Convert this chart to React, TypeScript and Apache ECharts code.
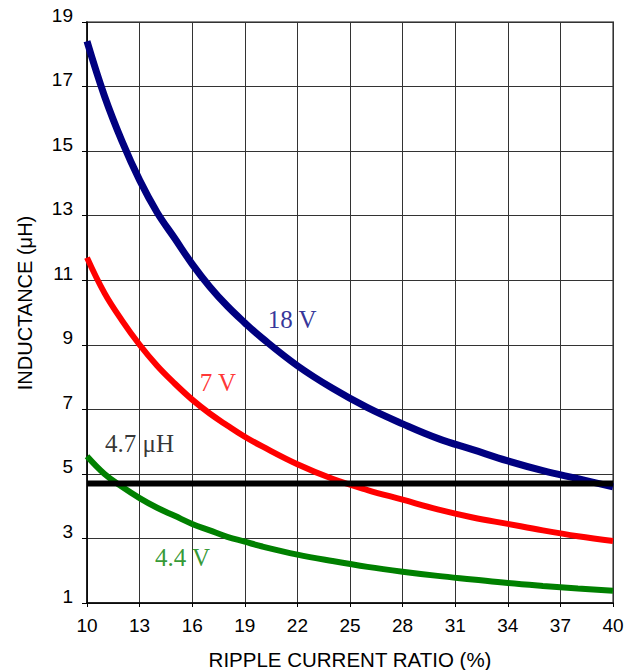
import React, { useEffect, useRef } from "react";
import * as echarts from "echarts";

const ripple = [10, 11, 12, 13, 14, 15, 16, 17, 18, 19, 20, 22, 24, 26, 28, 30, 32, 34, 36, 38, 40];
const v18 = [18.4, 16.7, 15.3, 14.1, 13.1, 12.3, 11.5, 10.8, 10.2, 9.68, 9.2, 8.35, 7.65, 7.05, 6.55, 6.1, 5.75, 5.4, 5.1, 4.85, 4.6];
const v7 = [11.7, 10.6, 9.75, 9.0, 8.35, 7.8, 7.3, 6.87, 6.5, 6.15, 5.85, 5.3, 4.85, 4.5, 4.2, 3.9, 3.65, 3.45, 3.25, 3.07, 2.92];
const v44 = [5.55, 5.0, 4.6, 4.25, 3.95, 3.7, 3.45, 3.25, 3.05, 2.9, 2.75, 2.5, 2.3, 2.12, 1.97, 1.84, 1.73, 1.62, 1.53, 1.45, 1.38];
const limitX = [10, 40];
const limitY = 4.7;

const labels = [
  { text: "18 V", x: 21.7, y: 9.79, color: "#000080" },
  { text: "7 V", x: 17.47, y: 7.84, color: "#ff0000" },
  { text: "4.7 \u03bcH", x: 13.0, y: 5.95, color: "#000000" },
  { text: "4.4 V", x: 15.45, y: 2.42, color: "#008000" },
];

export default function App() {
  const ref = useRef<HTMLDivElement>(null);
  useEffect(() => {
    if (!ref.current) return;
    const chart = echarts.init(ref.current, undefined, { renderer: "svg" });
    const sans = "Liberation Sans, Arial, sans-serif";
    const serif = "Liberation Serif, Times New Roman, serif";
    const mk = (ys: number[]) => ripple.map((x, i) => [x, ys[i]]);
    chart.setOption({
      animation: false,
      grid: {
        left: 87,
        right: 24,
        top: 22,
        bottom: 67,
        outerBoundsMode: "none",
        containLabel: false,
        show: true,
        borderColor: "#888",
        borderWidth: 2,
        backgroundColor: "#fff",
      },
      xAxis: {
        type: "value",
        min: 10,
        max: 40,
        interval: 3,
        name: "RIPPLE CURRENT RATIO (%)",
        nameLocation: "middle",
        nameGap: 48,
        nameTextStyle: { fontFamily: sans, fontSize: 20.5, lineHeight: 16, color: "#000" },
        axisLine: { lineStyle: { color: "#000", width: 1.5 } },
        axisTick: { show: true, length: 4, lineStyle: { color: "#000" } },
        axisLabel: { fontFamily: sans, fontSize: 19, color: "#000", margin: 13 },
        splitLine: { show: true, lineStyle: { color: "#333", width: 1 } },
      },
      yAxis: {
        type: "value",
        min: 1,
        max: 19,
        interval: 2,
        axisLine: { show: true, lineStyle: { color: "#000", width: 1.5 } },
        axisTick: { show: true, length: 5, lineStyle: { color: "#000" } },
        axisLabel: {
          fontFamily: sans,
          fontSize: 19,
          color: "#000",
          margin: 14,
          verticalAlign: "bottom",
          lineHeight: 14,
        },
        splitLine: { show: true, lineStyle: { color: "#333", width: 1 } },
      },
      graphic: [
        {
          type: "text",
          x: 25,
          y: 303,
          rotation: Math.PI / 2,
          style: {
            text: "INDUCTANCE (\u03bcH)",
            fontFamily: sans,
            fontSize: 20,
            fill: "#000",
            align: "center",
            verticalAlign: "middle",
          },
        },
      ],
      series: [
        {
          type: "line",
          data: mk(v18),
          showSymbol: false,
          smooth: 0.4,
          lineStyle: { color: "#000080", width: 7 },
          z: 3,
        },
        {
          type: "line",
          data: mk(v7),
          showSymbol: false,
          smooth: 0.4,
          lineStyle: { color: "#ff0000", width: 6 },
          z: 3,
        },
        {
          type: "line",
          data: mk(v44),
          showSymbol: false,
          smooth: 0.4,
          lineStyle: { color: "#008000", width: 6 },
          z: 3,
        },
        {
          type: "line",
          data: limitX.map((x) => [x, limitY]),
          showSymbol: false,
          lineStyle: { color: "#000", width: 6 },
          z: 4,
        },
        {
          type: "scatter",
          symbolSize: 0,
          silent: true,
          data: labels.map((l) => ({
            value: [l.x, l.y],
            label: { color: l.color },
          })),
          label: {
            show: true,
            position: "inside",
            formatter: (p: any) => labels[p.dataIndex].text,
            fontFamily: serif,
            fontSize: 25,
          },
          itemStyle: { color: "transparent" },
          z: 5,
        },
      ],
    });
    return () => chart.dispose();
  }, []);
  return (
    <div
      ref={ref}
      style={{ position: "fixed", left: 0, top: 0, width: 637, height: 670, background: "#fff" }}
    />
  );
}
